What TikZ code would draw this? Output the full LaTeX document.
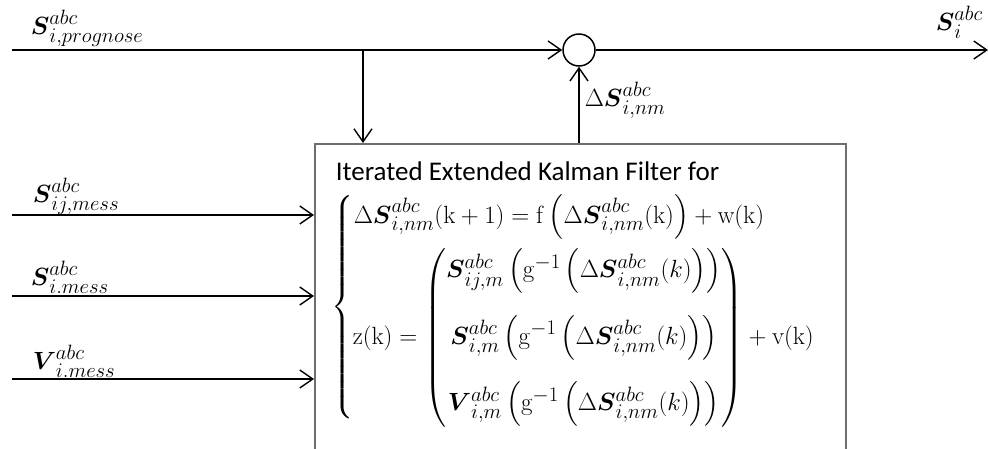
\documentclass[tikz,border=0pt]{standalone}
\usepackage{amsmath}
\usepackage[no-math]{fontspec}
\setmainfont{Carlito}
\usetikzlibrary{arrows.meta}
\definecolor{boxgray}{HTML}{6E6E6E}
\begin{document}
\begin{tikzpicture}[x=1pt,y=1pt,line width=1.5pt,
  arr/.style={-{Straight Barb[length=13pt,width=18pt,line width=1.4pt]}},
  lbl/.style={anchor=base west,inner sep=0pt,font=\fontsize{28}{32}\selectfont},
  titlefont/.style={font=\fontsize{27}{32}\selectfont},
  eqfont/.style={font=\fontsize{30}{36}\selectfont,inner sep=0pt}]
\useasboundingbox (0,0) rectangle (988,-448);
\clip (0,0) rectangle (988,-448);
\node[draw=boxgray,rectangle,anchor=north west,minimum width=531pt,minimum height=330pt,inner sep=0pt] (ekf) at (314,-143) {};
\node[draw,circle,minimum size=32pt,inner sep=0pt] (sum) at (579,-50) {};
\coordinate (pin) at (12,-50);
\coordinate (pout) at (988,-50);
\coordinate (br) at (363,-50);
\coordinate (in1) at (12,-215);
\coordinate (in2) at (12,-296);
\coordinate (in3) at (12,-379);
\draw[arr] (pin) -- (sum);
\draw[arr] (sum) -- (pout);
\draw[arr] (br) -- (br |- ekf.north);
\draw[arr] (sum |- ekf.north) -- (sum);
\draw[arr] (in1) -- (in1 -| ekf.west);
\draw[arr] (in2) -- (in2 -| ekf.west);
\draw[arr] (in3) -- (in3 -| ekf.west);
\node[lbl] (lprog) at (30,-34) {$\boldsymbol{S}^{abc}_{i,prognose}$};
\node[lbl] (lout) at (935,-30) {$\boldsymbol{S}^{abc}_{i}$};
\node[lbl] (ldelta) at (584,-106) {$\Delta\boldsymbol{S}^{abc}_{i,nm}$};
\node[lbl] (lij) at (32,-202) {$\boldsymbol{S}^{abc}_{ij,mess}$};
\node[lbl] (li) at (30,-285) {$\boldsymbol{S}^{abc}_{i.mess}$};
\node[lbl] (lv) at (32,-369) {$\boldsymbol{V}^{abc}_{i.mess}$};
\node[titlefont,anchor=base west,inner sep=0pt] (title) at (335,-180) {Iterated Extended Kalman Filter for};
\node[eqfont] (brace) at (343,-307) {$\left\{\vcenter{\hbox{\vrule height 218pt width 0pt}}\right.$};
\node[eqfont,anchor=base west] (eqa) at (353,-223) {$\displaystyle\Delta\boldsymbol{S}^{abc}_{i,nm}(\mathrm{k}+1)=\mathrm{f}\left(\Delta\boldsymbol{S}^{abc}_{i,nm}(\mathrm{k})\right)+\mathrm{w}(\mathrm{k})$};
\node[eqfont,anchor=base west] (eqb) at (352,-344) {$\displaystyle\mathrm{z}(\mathrm{k})=\begin{pmatrix}
\boldsymbol{S}^{abc}_{ij,m}\left(\mathrm{g}^{-1}\left(\Delta\boldsymbol{S}^{abc}_{i,nm}(k)\right)\right)\\[27pt]
\boldsymbol{S}^{abc}_{i,m}\left(\mathrm{g}^{-1}\left(\Delta\boldsymbol{S}^{abc}_{i,nm}(k)\right)\right)\\[27pt]
\boldsymbol{V}^{abc}_{i,m}\left(\mathrm{g}^{-1}\left(\Delta\boldsymbol{S}^{abc}_{i,nm}(k)\right)\right)
\end{pmatrix}+\mathrm{v}(\mathrm{k})$};
\end{tikzpicture}
\end{document}
